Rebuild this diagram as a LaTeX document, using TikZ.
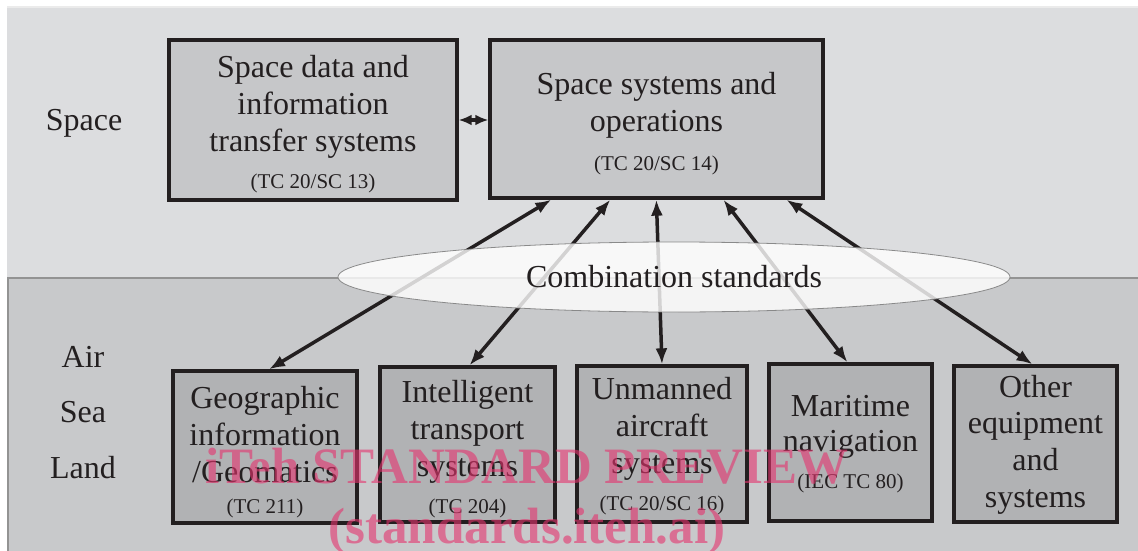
\documentclass[tikz,border=0pt]{standalone}
\usepackage{fontspec}
\setmainfont{Liberation Serif}
\usetikzlibrary{shapes.geometric,arrows.meta}
\definecolor{ink}{HTML}{231F20}
\definecolor{bgtop}{HTML}{DCDDDF}
\definecolor{bgbot}{HTML}{C8C9CB}
\definecolor{boxtop}{HTML}{C6C7C9}
\definecolor{boxbot}{HTML}{B1B2B4}
\definecolor{divider}{HTML}{939393}
\definecolor{wmark}{RGB}{229,51,110}
\newcommand\tcsz[1]{{\fontsize{21}{37}\selectfont #1}}
\begin{document}
\begin{tikzpicture}[x=1pt,y=-1pt,
  box/.style={draw=ink, line width=3.3pt, inner sep=0pt},
  topbox/.style={box, fill=boxtop},
  botbox/.style={box, fill=boxbot},
  txt/.style={align=center, text=ink, font=\fontsize{32}{37}\selectfont, inner sep=0pt, anchor=base},
  side/.style={text=ink, font=\fontsize{32}{37}\selectfont, inner sep=0pt, anchor=base},
  link/.style={{Latex[length=16pt,width=12pt]}-{Latex[length=16pt,width=12pt]}, line width=3.5pt, draw=ink},
  wm/.style={text=wmark, text opacity=0.6, font=\fontsize{51}{60}\selectfont\bfseries, inner sep=0pt, anchor=base}]
\useasboundingbox (0,0) rectangle (1138,551);
\fill[white] (0,0) rectangle (1138,551);
% panels
\fill[bgtop] (7,7) rectangle (1138,278);
\draw[color=white!92!black, line width=1.5pt] (7,7) -- (1138,7);
\fill[bgbot] (8,278) rectangle (1138,551);
\draw[divider, line width=2.5pt] (8.2,551) -- (8.2,278) -- (1138,278);
% side labels
\node[side] (lspace) at (84,130) {Space};
\node[side] (lair) at (83,367) {Air};
\node[side] (lsea) at (83,422) {Sea};
\node[side] (lland) at (83,478) {Land};
% top boxes
\node[topbox, minimum width=288pt, minimum height=160pt] (A) at (313,120) {};
\node[topbox, minimum width=333pt, minimum height=158pt] (B) at (656.5,119) {};
\node[txt] (At) at (313,188) {Space data and\\information\\transfer systems\\\tcsz{(TC 20/SC 13)}};
\node[txt] (Bt) at (656.5,170) {Space systems and\\operations\\[2pt]\tcsz{(TC 20/SC 14)}};
% bottom boxes
\node[botbox, minimum width=184pt, minimum height=152pt] (geo) at (265,447) {};
\node[botbox, minimum width=175pt, minimum height=155pt] (its) at (467.5,444.5) {};
\node[botbox, minimum width=170pt, minimum height=156pt] (uas) at (662,444) {};
\node[botbox, minimum width=163pt, minimum height=157pt] (mar) at (850.5,442.5) {};
\node[botbox, minimum width=163pt, minimum height=156pt] (oth) at (1035.5,444) {};
\node[txt] (geot) at (265,513) {Geographic\\information\\/Geomatics\\[-6pt]\tcsz{(TC 211)}};
\node[txt] (itst) at (467.5,513) {Intelligent\\transport\\systems\\\tcsz{(TC 204)}};
\node[txt] (uast) at (662,510) {Unmanned\\aircraft\\systems\\\tcsz{(TC 20/SC 16)}};
\node[txt] (mart) at (850.5,488) {Maritime\\[-2pt]navigation\\\tcsz{(IEC TC 80)}};
\node[txt] (otht) at (1035.5,507) {Other\\[-1pt]equipment\\and\\systems};
% connectors
\draw[{Latex[length=13pt,width=11pt]}-{Latex[length=13pt,width=11pt]}, line width=3.3pt, draw=ink] (A.east) -- (A.east -| B.west);
\draw[link] ([xshift=63pt]B.south west) -- ([xshift=4pt]geo.north);
\draw[link] ([xshift=122pt]B.south west) -- ([xshift=2pt]its.north);
\draw[link] ([xshift=168pt]B.south west) -- (uas.north);
\draw[link] ([xshift=235pt]B.south west) -- ([xshift=-3pt]mar.north);
\draw[link] ([xshift=298pt]B.south west) -- ([xshift=-3pt]oth.north);
% combination ellipse
\node[ellipse, minimum width=672pt, minimum height=70pt, inner sep=0pt,
      fill=white, fill opacity=0.8, draw=gray, draw opacity=0.9, line width=0.8pt,
      text opacity=1, text=ink, font=\fontsize{32}{37}\selectfont] (comb) at (674,277) {Combination standards};
% watermark
\node[wm] (wm1) at (527,483) {iTeh STANDARD PREVIEW};
\node[wm] (wm2) at (527,543) {(standards.iteh.ai)};
\end{tikzpicture}
\end{document}
